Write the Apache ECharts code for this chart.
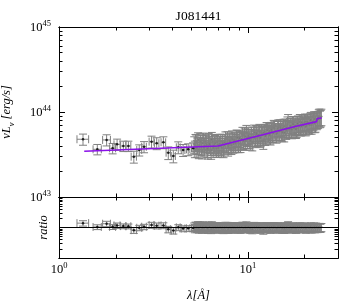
<!DOCTYPE html>
<html><head><meta charset="utf-8">
<script src="https://cdn.jsdelivr.net/npm/echarts@6/dist/echarts.min.js"></script>
<style>html,body{margin:0;padding:0;background:#fff}#c{width:349px;height:305px}</style>
</head><body><div id="c"></div>
<script>
const titleText = 'J081441';
// sparse (wide) bins
const lamSparse = [1.34,1.595,1.787,1.923,2.03,2.19,2.33,2.49,2.66,2.82,3.09,3.29,3.57,3.79,4.03,4.28,4.54,4.83,5.13];
const lamSparseErr = [0.095,0.08,0.085,0.07,0.075,0.07,0.07,0.08,0.08,0.08,0.09,0.09,0.1,0.1,0.1,0.1,0.1,0.1,0.1];
const lumSparse = [4.78e43,3.64e43,4.69e43,3.74e43,4.17e43,3.98e43,3.98e43,2.98e43,3.57e43,3.90e43,4.48e43,4.29e43,4.40e43,3.32e43,3.04e43,3.84e43,3.57e43,3.64e43,3.74e43];
const lumSparseRelErr = [0.15,0.14,0.15,0.14,0.15,0.14,0.14,0.16,0.15,0.15,0.16,0.16,0.16,0.17,0.17,0.16,0.16,0.16,0.16];
const ratioSparse = [1.39,1.04,1.33,1.05,1.17,1.11,1.10,0.82,0.98,1.06,1.21,1.15,1.17,0.88,0.80,1.01,0.93,0.94,0.96];
const ratioSparseRelErr = [0.2,0.18,0.2,0.18,0.2,0.18,0.18,0.22,0.2,0.2,0.22,0.22,0.22,0.24,0.24,0.22,0.22,0.22,0.22];
// dense (narrow) bins, set A
const lamDense = [5.20,5.28,5.37,5.45,5.54,5.63,5.72,5.81,5.90,6.00,6.09,6.19,6.29,6.39,6.49,6.60,6.70,6.81,6.92,
 7.03,7.14,7.26,7.37,7.49,7.61,7.73,7.86,7.98,8.11,8.24,8.37,8.51,8.64,8.78,8.92,9.07,9.21,9.36,9.51,9.66,9.82,9.97,10.13,10.30,10.46,10.63,10.80,10.97,11.15,11.33,11.51,11.69,11.88,
 12.07,12.26,12.46,12.66,12.86,13.07,13.28,13.49,13.71,13.93,14.15,14.38,14.61,14.84,15.08,15.32,15.57,15.82,16.07,16.33,16.59,16.85,17.12,17.40,17.68,17.96,
 18.25,18.54,18.84,19.14,19.45,19.76,20.08,20.40,20.72,21.06,21.39,21.74,22.09,22.44,22.80,23.17,23.54,23.92,24.30];
const lumDense = [4.19e43,4.46e43,3.77e43,4.67e43,4.10e43,4.37e43,3.60e43,4.63e43,4.00e43,4.32e43,3.73e43,4.57e43,4.18e43,3.56e43,4.47e43,4.00e43,4.33e43,3.73e43,4.14e43,
 3.97e43,4.49e43,3.79e43,4.24e43,4.03e43,4.78e43,4.23e43,3.88e43,4.60e43,4.25e43,4.91e43,4.20e43,4.68e43,4.46e43,4.99e43,4.26e43,4.90e43,4.71e43,5.41e43,4.55e43,5.16e43,5.70e43,4.77e43,5.11e43,4.56e43,5.45e43,5.05e43,5.75e43,4.88e43,5.49e43,5.18e43,5.86e43,5.00e43,5.53e43,
 4.66e43,5.85e43,5.35e43,6.13e43,5.68e43,5.39e43,6.18e43,5.65e43,6.53e43,5.88e43,5.51e43,6.35e43,5.98e43,6.64e43,5.90e43,6.45e43,5.70e43,6.76e43,6.51e43,7.65e43,6.30e43,6.88e43,6.21e43,7.20e43,6.73e43,6.25e43,
 7.26e43,6.76e43,7.66e43,6.73e43,7.28e43,7.05e43,7.75e43,6.88e43,7.59e43,7.21e43,7.93e43,7.02e43,7.68e43,8.27e43,7.42e43,7.93e43,8.25e43,8.87e43,8.56e43];
const ratioDense = [1.08,1.15,0.97,1.20,1.05,1.12,0.92,1.18,1.02,1.10,0.95,1.16,1.06,0.90,1.13,1.01,1.09,0.94,1.04,
 0.99,1.11,0.93,1.03,0.97,1.14,1.00,0.91,1.07,0.98,1.12,0.95,1.05,0.99,1.10,0.93,1.06,1.01,1.15,0.96,1.08,1.18,0.98,1.04,0.92,1.09,1.00,1.13,0.95,1.06,0.99,1.11,0.94,1.03,
 0.86,1.07,0.97,1.10,1.01,0.95,1.08,0.98,1.12,1.00,0.93,1.06,0.99,1.09,0.96,1.04,0.91,1.07,1.02,1.19,0.97,1.05,0.94,1.08,1.00,0.92,
 1.06,0.98,1.10,0.96,1.03,0.99,1.08,0.95,1.04,0.98,1.07,0.94,1.02,1.09,0.97,1.03,0.98,1.05,1.01];
// dense (narrow) bins, set B
const lamDense2 = [5.24,5.33,5.41,5.50,5.59,5.68,5.77,5.86,5.95,6.05,6.14,6.24,6.34,6.44,6.55,6.65,6.76,6.87,6.98,
 7.09,7.20,7.32,7.43,7.55,7.67,7.80,7.92,8.05,8.18,8.31,8.44,8.58,8.71,8.85,9.00,9.14,9.29,9.44,9.59,9.74,9.90,10.05,10.22,10.38,10.55,10.72,10.89,11.06,11.24,11.42,11.60,11.79,11.98,
 12.17,12.36,12.56,12.76,12.97,13.18,13.39,13.60,13.82,14.04,14.27,14.50,14.73,14.96,15.20,15.45,15.70,15.95,16.20,16.46,16.72,16.99,17.26,17.54,17.82,
 18.11,18.40,18.69,18.99,19.30,19.61,19.92,20.24,20.56,20.89,21.23,21.57,21.92,22.27,22.62,22.99,23.36,23.73,24.11,24.50];
const lumDense2 = [3.72e43,4.39e43,4.05e43,3.62e43,4.56e43,3.94e43,4.31e43,3.80e43,4.47e43,4.13e43,3.58e43,4.26e43,3.95e43,4.71e43,3.76e43,4.20e43,3.93e43,4.45e43,3.76e43,
 4.23e43,3.98e43,4.47e43,3.72e43,4.42e43,4.25e43,4.80e43,4.11e43,4.49e43,4.05e43,4.75e43,4.53e43,4.26e43,5.02e43,4.51e43,4.92e43,4.27e43,4.82e43,4.63e43,5.33e43,4.56e43,5.04e43,5.33e43,4.79e43,5.08e43,4.47e43,5.42e43,5.01e43,5.68e43,5.00e43,5.41e43,4.93e43,5.77e43,5.40e43,
 5.72e43,5.17e43,6.15e43,5.54e43,5.98e43,5.24e43,5.92e43,5.63e43,6.38e43,5.96e43,5.66e43,6.62e43,5.94e43,6.36e43,5.74e43,6.73e43,6.29e43,6.10e43,7.17e43,6.40e43,6.85e43,6.25e43,7.24e43,6.50e43,6.96e43,
 6.41e43,7.36e43,6.93e43,6.71e43,7.60e43,6.95e43,7.51e43,6.71e43,7.71e43,7.33e43,7.02e43,8.11e43,7.35e43,7.86e43,7.32e43,8.21e43,8.15e43,8.69e43,8.38e43,8.84e43];
const ratioDense2 = [0.96,1.13,1.04,0.93,1.17,1.01,1.10,0.97,1.14,1.05,0.91,1.08,1.00,1.19,0.95,1.06,0.99,1.12,0.94,
 1.05,0.98,1.09,0.90,1.06,1.01,1.13,0.96,1.04,0.93,1.08,1.02,0.95,1.11,0.99,1.07,0.92,1.03,0.98,1.12,0.95,1.04,1.09,0.97,1.02,0.89,1.07,0.98,1.10,0.96,1.03,0.93,1.08,1.00,
 1.05,0.94,1.11,0.99,1.06,0.92,1.03,0.97,1.09,1.01,0.95,1.10,0.98,1.04,0.93,1.08,1.00,0.96,1.12,0.99,1.05,0.95,1.09,0.97,1.03,
 0.94,1.07,1.00,0.96,1.08,0.98,1.05,0.93,1.06,1.00,0.95,1.09,0.98,1.04,0.96,1.07,0.97,1.03,0.99,1.04];
const lumDenseRelErr = 0.22;
const ratioDenseRelErr = 0.3;
// model curve
const modelLam = [1.36,6.94,12,18,23.1,23.3,24.6];
const modelLum = [3.45e43,3.98e43,5.4e43,6.8e43,7.7e43,8.4e43,8.5e43];
// ticks
const xMajor = [1,10], xMinor = [2,3,4,5,6,7,8,9,20];
const yMajorTop = [1e43,1e44,0.99999e45];
const yMinorTop = [2e43,3e43,4e43,5e43,6e43,7e43,8e43,9e43,2e44,3e44,4e44,5e44,6e44,7e44,8e44,9e44];
const yMajorBot = [0.1,1,9.9999];
const yMinorBot = [0.2,0.3,0.4,0.5,0.6,0.7,0.8,0.9,2,3,4,5,6,7,8,9];

const FONT = '"Liberation Serif", "DejaVu Serif", serif';
const GRAY = '#808080';

const errData = [], ratioErrData = [], sparseDots = [], sparseRatioDots = [], denseDots = [], denseRatioDots = [];
lamSparse.forEach((l,i)=>{
  errData.push([l, lumSparse[i], lamSparseErr[i], lumSparseRelErr[i]]);
  ratioErrData.push([l, ratioSparse[i], lamSparseErr[i], ratioSparseRelErr[i]]);
  sparseDots.push([l, lumSparse[i]]); sparseRatioDots.push([l, ratioSparse[i]]);
});
[[lamDense,lumDense,ratioDense],[lamDense2,lumDense2,ratioDense2]].forEach(([lams,lums,rats])=>{
  lams.forEach((l,i)=>{
    errData.push([l, lums[i], 0, lumDenseRelErr]);
    ratioErrData.push([l, rats[i], 0, ratioDenseRelErr]);
    denseDots.push([l, lums[i]]); denseRatioDots.push([l, rats[i]]);
  });
});
const modelData = modelLam.map((l,i)=>[l, modelLum[i]]);

function errRender(params, api){
  const x = api.value(0), y = api.value(1), xe = api.value(2), ye = api.value(3);
  const c = api.coord([x,y]);
  const t = api.coord([x, y*(1+ye)]);
  const b = api.coord([x, y*(1-ye)]);
  const st = {stroke:GRAY, lineWidth:1};
  const cap = 4;
  const ch = [
    {type:'line', shape:{x1:c[0],y1:t[1],x2:c[0],y2:b[1]}, style:st},
    {type:'line', shape:{x1:c[0]-cap,y1:t[1],x2:c[0]+cap,y2:t[1]}, style:st},
    {type:'line', shape:{x1:c[0]-cap,y1:b[1],x2:c[0]+cap,y2:b[1]}, style:st}
  ];
  if (xe > 0){
    const l = api.coord([x-xe,y]), r = api.coord([x+xe,y]);
    ch.push({type:'line', shape:{x1:l[0],y1:c[1],x2:r[0],y2:c[1]}, style:st});
    ch.push({type:'line', shape:{x1:l[0],y1:c[1]-cap,x2:l[0],y2:c[1]+cap}, style:st});
    ch.push({type:'line', shape:{x1:r[0],y1:c[1]-cap,x2:r[0],y2:c[1]+cap}, style:st});
  }
  return {type:'group', children:ch};
}

function supFmt(v){ const e = Math.round(Math.log10(v)); return '{b|10}{s|' + e + '}'; }
const supRich = {
  b:{fontFamily:FONT, fontSize:12.5, color:'#000', verticalAlign:'bottom', lineHeight:15},
  s:{fontFamily:FONT, fontSize:8.5, color:'#000', verticalAlign:'top', lineHeight:9}
};

function xAx(g, pos, vals, len, label){
  return {type:'log', logBase:10, min:1, max:30, gridIndex:g, position:pos,
    axisLine:{show:true, onZero:false, lineStyle:{color:'#000', width:1}},
    axisTick:{show:true, inside:true, length:len, customValues:vals, lineStyle:{color:'#000', width:1}},
    axisLabel: label ? {show:true, customValues:xMajor, formatter:supFmt, rich:supRich, margin:3, showMinLabel:true, showMaxLabel:true} : {show:false},
    splitLine:{show:false}, minorTick:{show:false}};
}
function yAx(g, pos, min, max, vals, len, label, extra){
  return Object.assign({type:'log', logBase:10, min:min, max:max, gridIndex:g, position:pos,
    axisLine:{show:true, onZero:false, lineStyle:{color:'#000', width:1}},
    axisTick:{show:true, inside:true, length:len, customValues:vals, lineStyle:{color:'#000', width:1}},
    axisLabel: label ? {show:true, customValues:yMajorTop, formatter:supFmt, rich:supRich, margin:8, showMinLabel:true, showMaxLabel:true} : {show:false},
    splitLine:{show:false}, minorTick:{show:false}}, extra||{});
}

const option = {
  animation:false,
  backgroundColor:'#fff',
  grid:[
    {left:59, top:27, width:279, height:170, outerBoundsMode:'none', containLabel:false},
    {left:59, top:197, width:279, height:61, outerBoundsMode:'none', containLabel:false}
  ],
  graphic:[{type:'text', x:198.5, y:16, style:{text:titleText, textAlign:'center', textVerticalAlign:'middle', font:'13.5px ' + FONT, fill:'#000'}}],
  xAxis:[
    xAx(0,'bottom',xMajor,6,false), xAx(0,'bottom',xMinor,3.5,false),
    xAx(0,'top',xMajor,6,false), xAx(0,'top',xMinor,3.5,false),
    Object.assign(xAx(1,'bottom',xMajor,6,true), {name:'λ[Å]', nameLocation:'middle', nameGap:31,
      nameTextStyle:{fontFamily:FONT, fontSize:12.5, fontStyle:'italic', color:'#000'}}),
    xAx(1,'bottom',xMinor,3.5,false),
    xAx(1,'top',xMajor,6,false), xAx(1,'top',xMinor,3.5,false)
  ],
  yAxis:[
    yAx(0,'left',1e43,1e45,yMajorTop,6,true,{name:'{i|νL}{s|ν}{i| [erg/s]}', nameLocation:'middle', nameGap:43, nameRotate:90,
      nameTextStyle:{rich:{
        i:{fontFamily:FONT, fontSize:12.5, fontStyle:'italic', color:'#000', verticalAlign:'top', lineHeight:16},
        s:{fontFamily:FONT, fontSize:8.5, fontStyle:'italic', color:'#000', verticalAlign:'bottom', lineHeight:9}}}}),
    yAx(0,'left',1e43,1e45,yMinorTop,3.5,false),
    yAx(0,'right',1e43,1e45,yMajorTop,6,false),
    yAx(0,'right',1e43,1e45,yMinorTop,3.5,false),
    yAx(1,'left',0.1,10,yMajorBot,6,false,{name:'ratio', nameLocation:'middle', nameGap:9, nameRotate:90,
      nameTextStyle:{fontFamily:FONT, fontSize:12.5, fontStyle:'italic', color:'#000'}}),
    yAx(1,'left',0.1,10,yMinorBot,3.5,false),
    yAx(1,'right',0.1,10,yMajorBot,6,false),
    yAx(1,'right',0.1,10,yMinorBot,3.5,false)
  ],
  series:[
    {type:'scatter', xAxisIndex:0, yAxisIndex:0, data:denseDots, symbolSize:2, itemStyle:{color:'#000'}, z:1, silent:true},
    {type:'custom', xAxisIndex:0, yAxisIndex:0, renderItem:errRender, data:errData, encode:{x:0,y:1}, z:2, silent:true, clip:false},
    {type:'scatter', xAxisIndex:0, yAxisIndex:0, data:sparseDots, symbolSize:2.5, itemStyle:{color:'#000'}, z:3, silent:true},
    {type:'line', xAxisIndex:0, yAxisIndex:0, data:modelData, showSymbol:false, symbol:'none', lineStyle:{color:'#8a10e8', width:1.6}, z:4, silent:true},
    {type:'scatter', xAxisIndex:4, yAxisIndex:4, data:denseRatioDots, symbolSize:2, itemStyle:{color:'#000'}, z:1, silent:true},
    {type:'custom', xAxisIndex:4, yAxisIndex:4, renderItem:errRender, data:ratioErrData, encode:{x:0,y:1}, z:2, silent:true, clip:false},
    {type:'scatter', xAxisIndex:4, yAxisIndex:4, data:sparseRatioDots, symbolSize:2.5, itemStyle:{color:'#000'}, z:3, silent:true,
      markLine:{silent:true, symbol:'none', label:{show:false}, lineStyle:{color:'#000', width:1, type:'solid'}, data:[{yAxis:1}]}}
  ]
};
const chart = echarts.init(document.getElementById('c'), null, {renderer:'canvas'});
chart.setOption(option);
</script>
</body></html>
